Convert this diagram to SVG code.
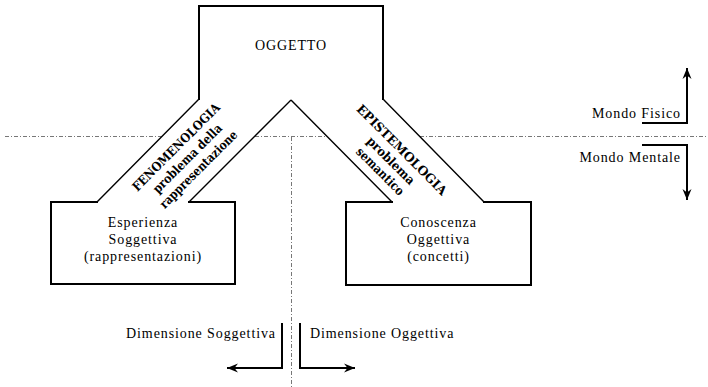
<svg xmlns="http://www.w3.org/2000/svg" width="708" height="387" viewBox="0 0 708 387">
<style>
.box{fill:none;stroke:#000;stroke-width:2;stroke-linejoin:miter;stroke-linecap:square}
.arm{fill:none;stroke:#000;stroke-width:1.4}
.axis{fill:none;stroke:#777;stroke-width:1;stroke-dasharray:4 2 1 2}
.arr{fill:none;stroke:#000;stroke-width:2}
.t{font-family:"Liberation Serif",serif;font-size:14px;fill:#000;letter-spacing:0.9px}
.b{font-family:"DejaVu Serif",serif;font-weight:bold;font-size:12.5px;fill:#000;text-anchor:middle}
</style>
<defs>
<marker id="ah" viewBox="-11 -5 12 10" refX="0" refY="0" markerWidth="12" markerHeight="10" markerUnits="userSpaceOnUse" orient="auto">
<path d="M0,0 L-11,-4.5 L-7.5,0 L-11,4.5 Z" fill="#000"/>
</marker>
</defs>
<g id="axes">
<path class="axis" d="M5,136.5 H162 M255,136.5 H327 M420,136.5 H708"/>
<path class="axis" d="M291.5,137 V387"/>
</g>
<g id="oggetto">
<path class="box" d="M199,99 V6 H383 V99"/>
<text class="t" x="291" y="50" text-anchor="middle">OGGETTO</text>
</g>
<g id="esperienza">
<path class="box" d="M97,202 H51 V284 H235 V202 H189"/>
<text class="t" x="143" y="227" text-anchor="middle">Esperienza</text>
<text class="t" x="143" y="244" text-anchor="middle">Soggettiva</text>
<text class="t" x="143" y="261" text-anchor="middle">(rappresentazioni)</text>
</g>
<g id="conoscenza">
<path class="box" d="M392,202 H346 V285 H531 V202 H484"/>
<text class="t" x="438.5" y="227" text-anchor="middle">Conoscenza</text>
<text class="t" x="438.5" y="244" text-anchor="middle">Oggettiva</text>
<text class="t" x="438.5" y="261" text-anchor="middle">(concetti)</text>
</g>
<g id="connectors">
<path class="arm" d="M199,99 L97,202 M291,100 L189,202 M291,100 L392,202 M383,99 L484,202"/>
<g transform="translate(188,159) rotate(-45)">
<text class="b" x="0" y="-12.5" textLength="118" lengthAdjust="spacingAndGlyphs">FENOMENOLOGIA</text>
<text class="b" x="0" y="3.5" textLength="92" lengthAdjust="spacingAndGlyphs">problema della</text>
<text class="b" x="0" y="19" textLength="104" lengthAdjust="spacingAndGlyphs">rappresentazione</text>
</g>
<g transform="translate(390.3,161.3) rotate(45)">
<text class="b" x="0" y="-12" textLength="122" lengthAdjust="spacingAndGlyphs">EPISTEMOLOGIA</text>
<text class="b" x="0" y="3.5" textLength="62" lengthAdjust="spacingAndGlyphs">problema</text>
<text class="b" x="0" y="18.5" textLength="62" lengthAdjust="spacingAndGlyphs">semantico</text>
</g>
</g>
<g id="mondo-fisico">
<path class="arr" d="M642,123 H687 V68" marker-end="url(#ah)"/>
<text class="t" x="681" y="118" text-anchor="end">Mondo Fisico</text>
</g>
<g id="mondo-mentale">
<path class="arr" d="M642,145 H687 V200" marker-end="url(#ah)"/>
<text class="t" x="681" y="162" text-anchor="end">Mondo Mentale</text>
</g>
<g id="dim-soggettiva">
<path class="arr" d="M282,323 V368 H227" marker-end="url(#ah)"/>
<text class="t" x="276" y="338" text-anchor="end">Dimensione Soggettiva</text>
</g>
<g id="dim-oggettiva">
<path class="arr" d="M300,323 V368 H355" marker-end="url(#ah)"/>
<text class="t" x="310" y="338">Dimensione Oggettiva</text>
</g>
</svg>
